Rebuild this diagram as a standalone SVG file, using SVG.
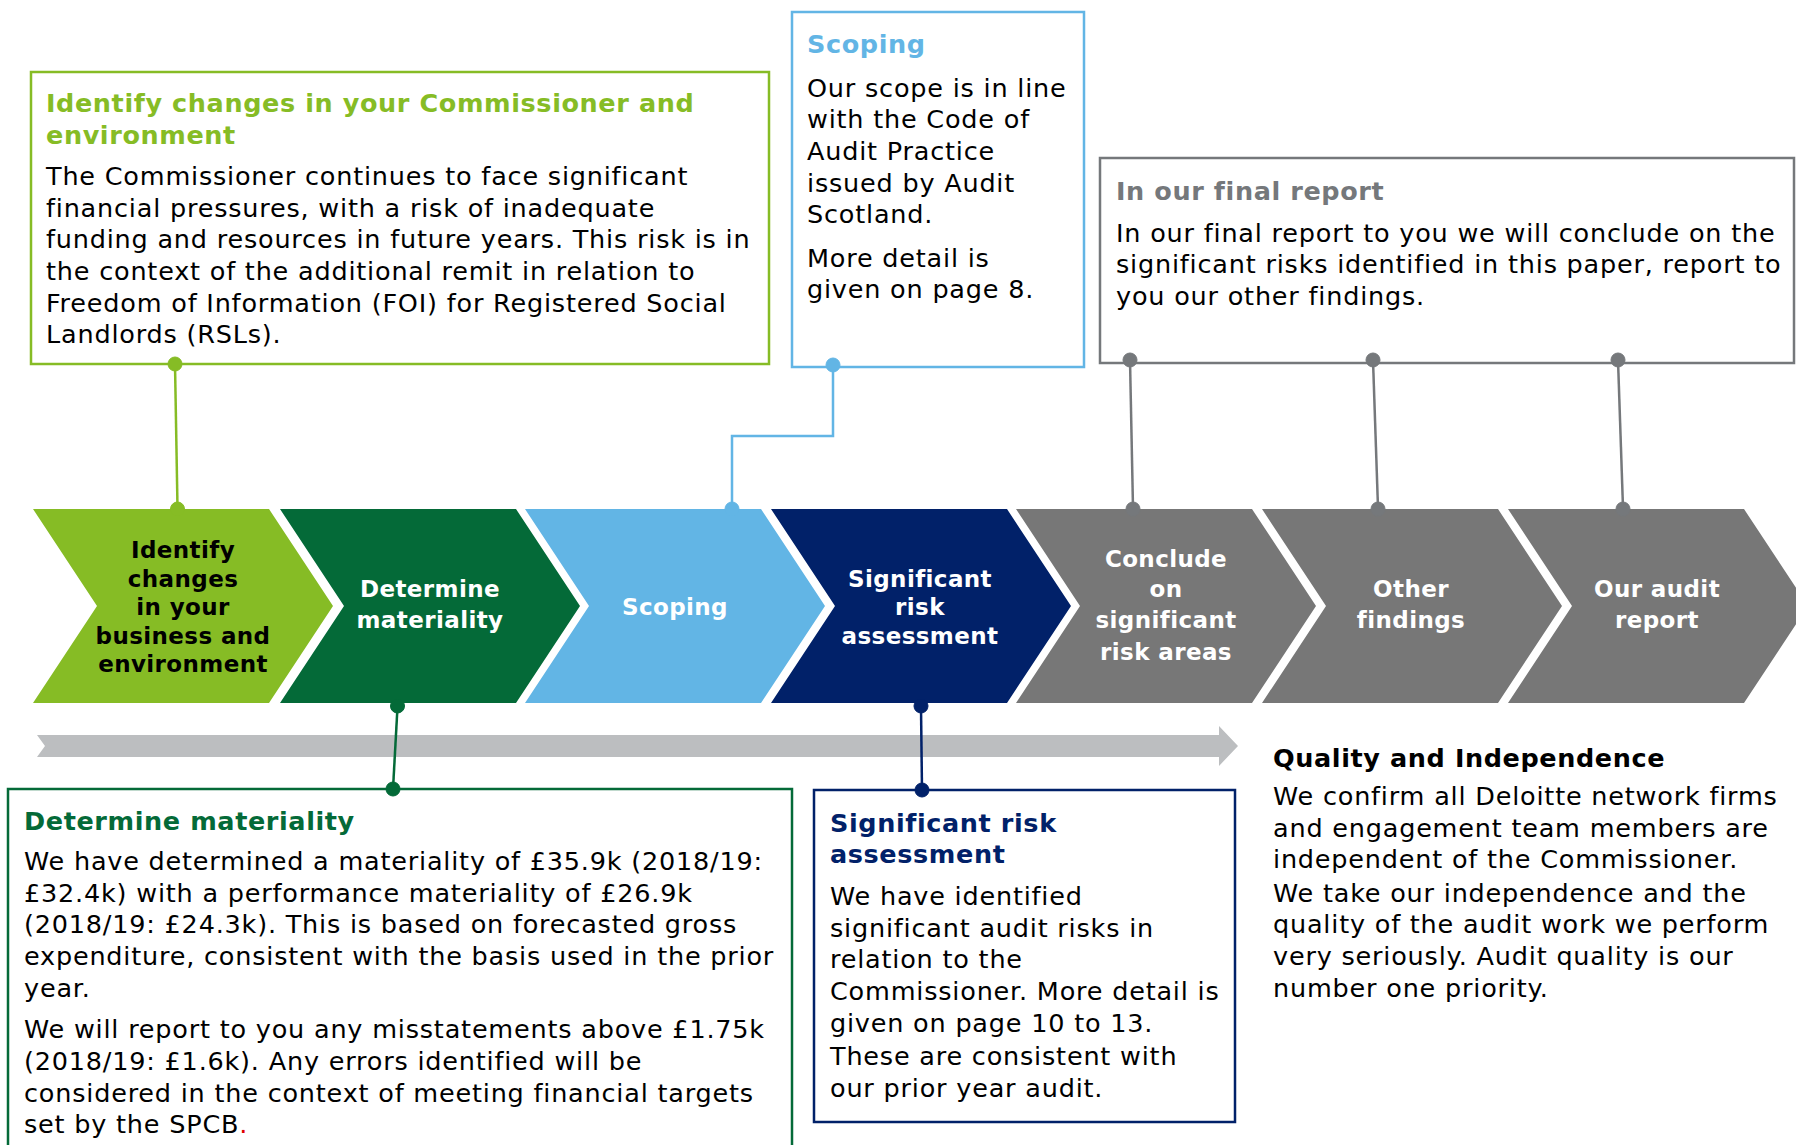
<svg xmlns="http://www.w3.org/2000/svg" width="1796" height="1145" viewBox="0 0 1796 1145">
<defs>
<style>
text{font-family:"DejaVu Sans","Verdana",sans-serif;}
.body{font-size:25.5px;letter-spacing:0.8px;fill:#000;}
.ttl{font-size:25.5px;letter-spacing:0.6px;font-weight:bold;}
.chv{font-size:23px;letter-spacing:0.4px;font-weight:bold;fill:#fff;text-anchor:middle;}
.box{fill:#fff;stroke-width:2.5;}
.ln{fill:none;stroke-width:2.5;}
</style>
</defs>
<rect width="1796" height="1145" fill="#fff"/>

<!-- process arrow -->
<g id="timeline-arrow">
<polygon points="37,735 1219,735 1219,726 1238,746 1219,766 1219,757 37,757 45,746" fill="#BCBEC0"/>
</g>

<!-- chevrons -->
<g id="step-identify">
<polygon points="33,509 269,509 333,606 269,703 33,703 97,606" fill="#86BC25"/>
<text class="chv" style="fill:#000" x="183" y="558">Identify</text>
<text class="chv" style="fill:#000" x="183" y="587">changes</text>
<text class="chv" style="fill:#000" x="183" y="615">in your</text>
<text class="chv" style="fill:#000" x="183" y="644">business and</text>
<text class="chv" style="fill:#000" x="183" y="672">environment</text>
</g>
<g id="step-materiality">
<polygon points="280,509 516,509 580,606 516,703 280,703 344,606" fill="#046A38"/>
<text class="chv" x="430" y="597">Determine</text>
<text class="chv" x="430" y="628">materiality</text>
</g>
<g id="step-scoping">
<polygon points="525,509 761,509 825,606 761,703 525,703 589,606" fill="#62B5E5"/>
<text class="chv" x="675" y="615">Scoping</text>
</g>
<g id="step-risk">
<polygon points="771,509 1007,509 1071,606 1007,703 771,703 835,606" fill="#012169"/>
<text class="chv" x="920" y="587">Significant</text>
<text class="chv" x="920" y="615">risk</text>
<text class="chv" x="920" y="644">assessment</text>
</g>
<g id="step-conclude">
<polygon points="1016,509 1252,509 1316,606 1252,703 1016,703 1080,606" fill="#777777"/>
<text class="chv" x="1166" y="567">Conclude</text>
<text class="chv" x="1166" y="597">on</text>
<text class="chv" x="1166" y="628">significant</text>
<text class="chv" x="1166" y="660">risk areas</text>
</g>
<g id="step-other">
<polygon points="1262,509 1498,509 1562,606 1498,703 1262,703 1326,606" fill="#777777"/>
<text class="chv" x="1411" y="597">Other</text>
<text class="chv" x="1411" y="628">findings</text>
</g>
<g id="step-report">
<polygon points="1508,509 1744,509 1808,606 1744,703 1508,703 1572,606" fill="#777777"/>
<text class="chv" x="1657" y="597">Our audit</text>
<text class="chv" x="1657" y="628">report</text>
</g>

<!-- callout boxes -->
<g id="box-identify">
<rect class="box" x="31" y="72" width="738" height="292" stroke="#86BC25"/>
<text class="ttl" fill="#86BC25" x="46" y="112">Identify changes in your Commissioner and</text>
<text class="ttl" fill="#86BC25" x="46" y="144">environment</text>
<text class="body" x="46" y="185">The Commissioner continues to face significant</text>
<text class="body" x="46" y="217">financial pressures, with a risk of inadequate</text>
<text class="body" x="46" y="248">funding and resources in future years. This risk is in</text>
<text class="body" x="46" y="280">the context of the additional remit in relation to</text>
<text class="body" x="46" y="312">Freedom of Information (FOI) for Registered Social</text>
<text class="body" x="46" y="343">Landlords (RSLs).</text>
</g>
<g id="box-scoping">
<rect class="box" x="792" y="12" width="292" height="355" stroke="#62B5E5"/>
<text class="ttl" fill="#62B5E5" x="807" y="53">Scoping</text>
<text class="body" x="807" y="97">Our scope is in line</text>
<text class="body" x="807" y="128">with the Code of</text>
<text class="body" x="807" y="160">Audit Practice</text>
<text class="body" x="807" y="192">issued by Audit</text>
<text class="body" x="807" y="223">Scotland.</text>
<text class="body" x="807" y="267">More detail is</text>
<text class="body" x="807" y="298">given on page 8.</text>
</g>
<g id="box-final">
<rect class="box" x="1100" y="158" width="694" height="205" stroke="#75787B"/>
<text class="ttl" fill="#75787B" x="1116" y="200">In our final report</text>
<text class="body" x="1116" y="242">In our final report to you we will conclude on the</text>
<text class="body" x="1116" y="273">significant risks identified in this paper, report to</text>
<text class="body" x="1116" y="305">you our other findings.</text>
</g>
<g id="box-materiality">
<rect class="box" x="8" y="789" width="784" height="380" stroke="#046A38"/>
<text class="ttl" fill="#046A38" x="24" y="830">Determine materiality</text>
<text class="body" x="24" y="870">We have determined a materiality of £35.9k (2018/19:</text>
<text class="body" x="24" y="902">£32.4k) with a performance materiality of £26.9k</text>
<text class="body" x="24" y="933">(2018/19: £24.3k). This is based on forecasted gross</text>
<text class="body" x="24" y="965">expenditure, consistent with the basis used in the prior</text>
<text class="body" x="24" y="997">year.</text>
<text class="body" x="24" y="1038">We will report to you any misstatements above £1.75k</text>
<text class="body" x="24" y="1070">(2018/19: £1.6k). Any errors identified will be</text>
<text class="body" x="24" y="1102">considered in the context of meeting financial targets</text>
<text class="body" x="24" y="1133">set by the SPCB<tspan fill="#E00000">.</tspan></text>
</g>
<g id="box-risk">
<rect class="box" x="814" y="790" width="421" height="332" stroke="#012169"/>
<text class="ttl" fill="#012169" x="830" y="832">Significant risk</text>
<text class="ttl" fill="#012169" x="830" y="863">assessment</text>
<text class="body" x="830" y="905">We have identified</text>
<text class="body" x="830" y="937">significant audit risks in</text>
<text class="body" x="830" y="968">relation to the</text>
<text class="body" x="830" y="1000">Commissioner. More detail is</text>
<text class="body" x="830" y="1032">given on page 10 to 13.</text>
<text class="body" x="830" y="1065">These are consistent with</text>
<text class="body" x="830" y="1097">our prior year audit.</text>
</g>
<g id="box-quality">
<text class="ttl" fill="#000" x="1273" y="767">Quality and Independence</text>
<text class="body" x="1273" y="805">We confirm all Deloitte network firms</text>
<text class="body" x="1273" y="837">and engagement team members are</text>
<text class="body" x="1273" y="868">independent of the Commissioner.</text>
<text class="body" x="1273" y="902">We take our independence and the</text>
<text class="body" x="1273" y="933">quality of the audit work we perform</text>
<text class="body" x="1273" y="965">very seriously. Audit quality is our</text>
<text class="body" x="1273" y="997">number one priority.</text>
</g>

<!-- connectors -->
<g id="connectors">
<g stroke="#86BC25" fill="#86BC25">
<line class="ln" x1="175" y1="364" x2="177.5" y2="508"/>
<circle cx="175" cy="364" r="7"/>
<circle cx="177.5" cy="509" r="7"/>
</g>
<g stroke="#62B5E5" fill="#62B5E5">
<polyline class="ln" points="833,365 833,436 732,436 732,508"/>
<circle cx="833" cy="365" r="7"/>
<circle cx="732" cy="509" r="7"/>
</g>
<g stroke="#046A38" fill="#046A38">
<line class="ln" x1="397.5" y1="707" x2="393" y2="789"/>
<circle cx="397.5" cy="706" r="7"/>
<circle cx="393" cy="789" r="7"/>
</g>
<g stroke="#012169" fill="#012169">
<line class="ln" x1="921" y1="707" x2="922" y2="790"/>
<circle cx="921" cy="706" r="7"/>
<circle cx="922" cy="790" r="7"/>
</g>
<g stroke="#75787B" fill="#75787B">
<line class="ln" x1="1130" y1="360" x2="1133" y2="508"/>
<line class="ln" x1="1373" y1="360" x2="1378" y2="508"/>
<line class="ln" x1="1618" y1="360" x2="1623" y2="508"/>
<circle cx="1130" cy="360" r="7"/>
<circle cx="1373" cy="360" r="7"/>
<circle cx="1618" cy="360" r="7"/>
<circle cx="1133" cy="509" r="7"/>
<circle cx="1378" cy="509" r="7"/>
<circle cx="1623" cy="509" r="7"/>
</g>
</g>
</svg>
